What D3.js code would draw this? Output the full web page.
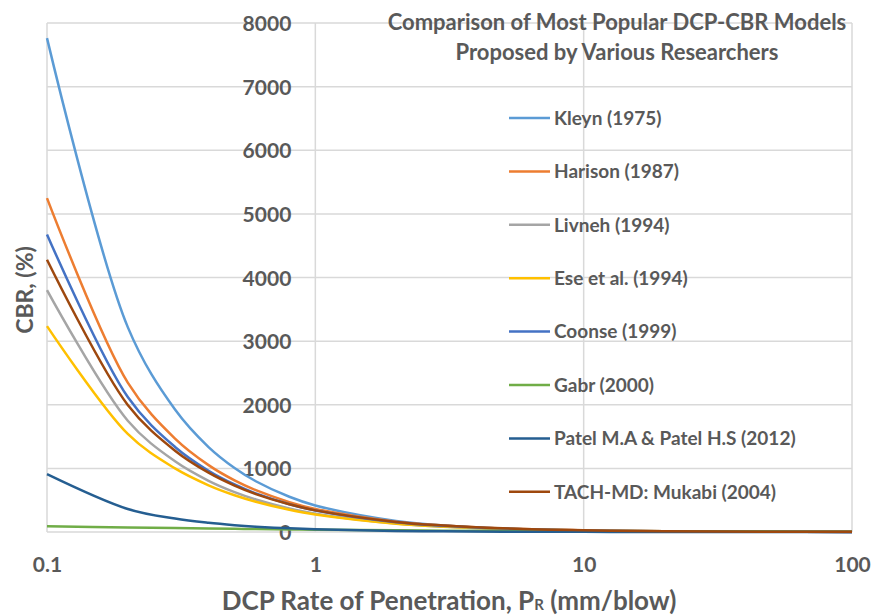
<!DOCTYPE html>
<html>
<head>
<meta charset="utf-8">
<script src="https://cdn.jsdelivr.net/npm/d3@7"></script>
<style>
	body { margin: 0; background: #fff; }
	svg text { font-family: Lato, "Open Sans", sans-serif; font-weight: 700; fill: #595959; }
</style>
</head>
<body>
<div id="chart"></div>
<script>
// DCP rate of penetration (mm/blow) and CBR (%)
const penetration = [0.1, 0.2, 0.3, 0.4, 0.5, 0.6, 0.8, 1, 2, 3, 5, 10, 20, 50, 100];

const kleyn   = [7762, 3220, 1924, 1335, 1006, 798, 554, 417, 173, 103, 54, 22, 9.3, 2.9, 1.2];
const harison = [5248, 2349, 1468, 1051, 811, 657, 470, 363, 163, 101, 56, 25, 11, 3.9, 1.7];
const livneh  = [3802, 1749, 1111, 805, 627, 511, 370, 288, 133, 84, 48, 22, 10, 3.6, 1.7];
const ese     = [3236, 1541, 999, 734, 578, 476, 350, 275, 131, 85, 49, 23, 11, 4.2, 2.0];
const coonse  = [4677, 2122, 1337, 963, 747, 606, 437, 339, 154, 97, 54, 25, 11, 3.9, 1.8];
const gabr    = [90, 72, 62, 56, 50, 46, 40, 36, 26, 21, 17, 12, 9, 6, 4];
const patel   = [909, 361, 211, 144, 107, 84, 57, 42, 17, 9.9, 5.0, 2.0, 0.8, 0.2, 0.1];
const mukabi  = [4280, 1997, 1278, 932, 729, 596, 435, 340, 159, 102, 58, 27, 12.6, 4.6, 2.1];

const seriesNames = ['Kleyn (1975)', 'Harison (1987)', 'Livneh (1994)', 'Ese et al. (1994)',
	'Coonse (1999)', 'Gabr (2000)', 'Patel M.A & Patel H.S (2012)', 'TACH-MD: Mukabi (2004)'];
const seriesValues = [kleyn, harison, livneh, ese, coonse, gabr, patel, mukabi];

const xTicks = [0.1, 1, 10, 100];
const xTickLabels = ['0.1', '1', '10', '100'];
const yTicks = [0, 1000, 2000, 3000, 4000, 5000, 6000, 7000, 8000];

const titleLines = ['Comparison of Most Popular DCP-CBR Models', 'Proposed by Various Researchers'];

const colors = ['#5b9bd5', '#ed7d31', '#a5a5a5', '#ffc000', '#4472c4', '#70ad47', '#255e91', '#9e480e'];

const width = 873, height = 616;
const plot = { left: 47, right: 852, top: 23, bottom: 532 };

let svg = d3.select('#chart').append('svg')
	.attr('width', width)
	.attr('height', height);

let x = d3.scaleLog()
	.domain([0.1, 100])
	.range([plot.left, plot.right]);

let y = d3.scaleLinear()
	.domain([0, 8000])
	.range([plot.bottom, plot.top]);

// gridlines
let grid = svg.append('g').attr('class', 'grid');
grid.selectAll('line.h')
	.data(yTicks)
	.enter().append('line')
	.attr('class', 'h')
	.attr('x1', plot.left)
	.attr('x2', plot.right)
	.attr('y1', d => y(d))
	.attr('y2', d => y(d))
	.attr('stroke', '#d9d9d9')
	.attr('stroke-width', 1.5);

grid.selectAll('line.v')
	.data(xTicks)
	.enter().append('line')
	.attr('class', 'v')
	.attr('x1', d => x(d))
	.attr('x2', d => x(d))
	.attr('y1', plot.top)
	.attr('y2', plot.bottom)
	.attr('stroke', '#d9d9d9')
	.attr('stroke-width', 1.5);

// y axis sits at PR = 1, labels to its left
let yAxis = svg.append('g')
	.attr('transform', 'translate(' + (x(1) - 24) + ',0)')
	.call(d3.axisLeft(y).tickValues(yTicks).tickSize(0).tickPadding(0).tickFormat(d3.format('d')));
yAxis.select('.domain').remove();
yAxis.selectAll('text')
	.attr('font-size', 21)
	.attr('dy', '0.36em')
	.style('font-family', null);

let xAxis = svg.append('g')
	.attr('transform', 'translate(0,' + plot.bottom + ')')
	.call(d3.axisBottom(x).tickValues(xTicks).tickSize(0).tickPadding(0)
		.tickFormat((d, i) => xTickLabels[i]));
xAxis.select('.domain').remove();
xAxis.selectAll('text')
	.attr('font-size', 21)
	.attr('y', 40)
	.attr('dy', 0)
	.style('font-family', null);

// curves (Excel-style smoothing)
let line = d3.line()
	.x(d => x(d[0]))
	.y(d => y(d[1]))
	.curve(d3.curveCatmullRom.alpha(0.5));

svg.append('g')
	.attr('class', 'series')
	.selectAll('path')
	.data(seriesValues)
	.enter().append('path')
	.attr('d', vals => line(penetration.map((p, i) => [p, vals[i]])))
	.attr('fill', 'none')
	.attr('stroke', (d, i) => colors[i])
	.attr('stroke-width', 2.5)
	.attr('stroke-linejoin', 'round');

// title
svg.append('g')
	.selectAll('text')
	.data(titleLines)
	.enter().append('text')
	.attr('x', 617)
	.attr('y', (d, i) => 30 + i * 30)
	.attr('text-anchor', 'middle')
	.attr('font-size', 22)
	.text(d => d);

// legend
let legend = svg.append('g')
	.attr('class', 'legend')
	.selectAll('g')
	.data(seriesNames)
	.enter().append('g')
	.attr('transform', (d, i) => 'translate(509,' + (118 + i * 53.4) + ')');

legend.append('line')
	.attr('x1', 0)
	.attr('x2', 41)
	.attr('stroke', (d, i) => colors[i])
	.attr('stroke-width', 2.5);

legend.append('text')
	.attr('x', 45)
	.attr('dy', '0.36em')
	.attr('font-size', 19)
	.text(d => d);

// axis titles
let xTitle = svg.append('text')
	.attr('x', 449)
	.attr('y', 610)
	.attr('text-anchor', 'middle')
	.attr('font-size', 26);
xTitle.append('tspan').text('DCP Rate of Penetration, P');
xTitle.append('tspan').attr('font-size', 15).text('R');
xTitle.append('tspan').text(' (mm/blow)');

svg.append('text')
	.attr('transform', 'translate(33,290) rotate(-90)')
	.attr('text-anchor', 'middle')
	.attr('font-size', 23)
	.text('CBR,  (%)');
</script>
</body>
</html>
